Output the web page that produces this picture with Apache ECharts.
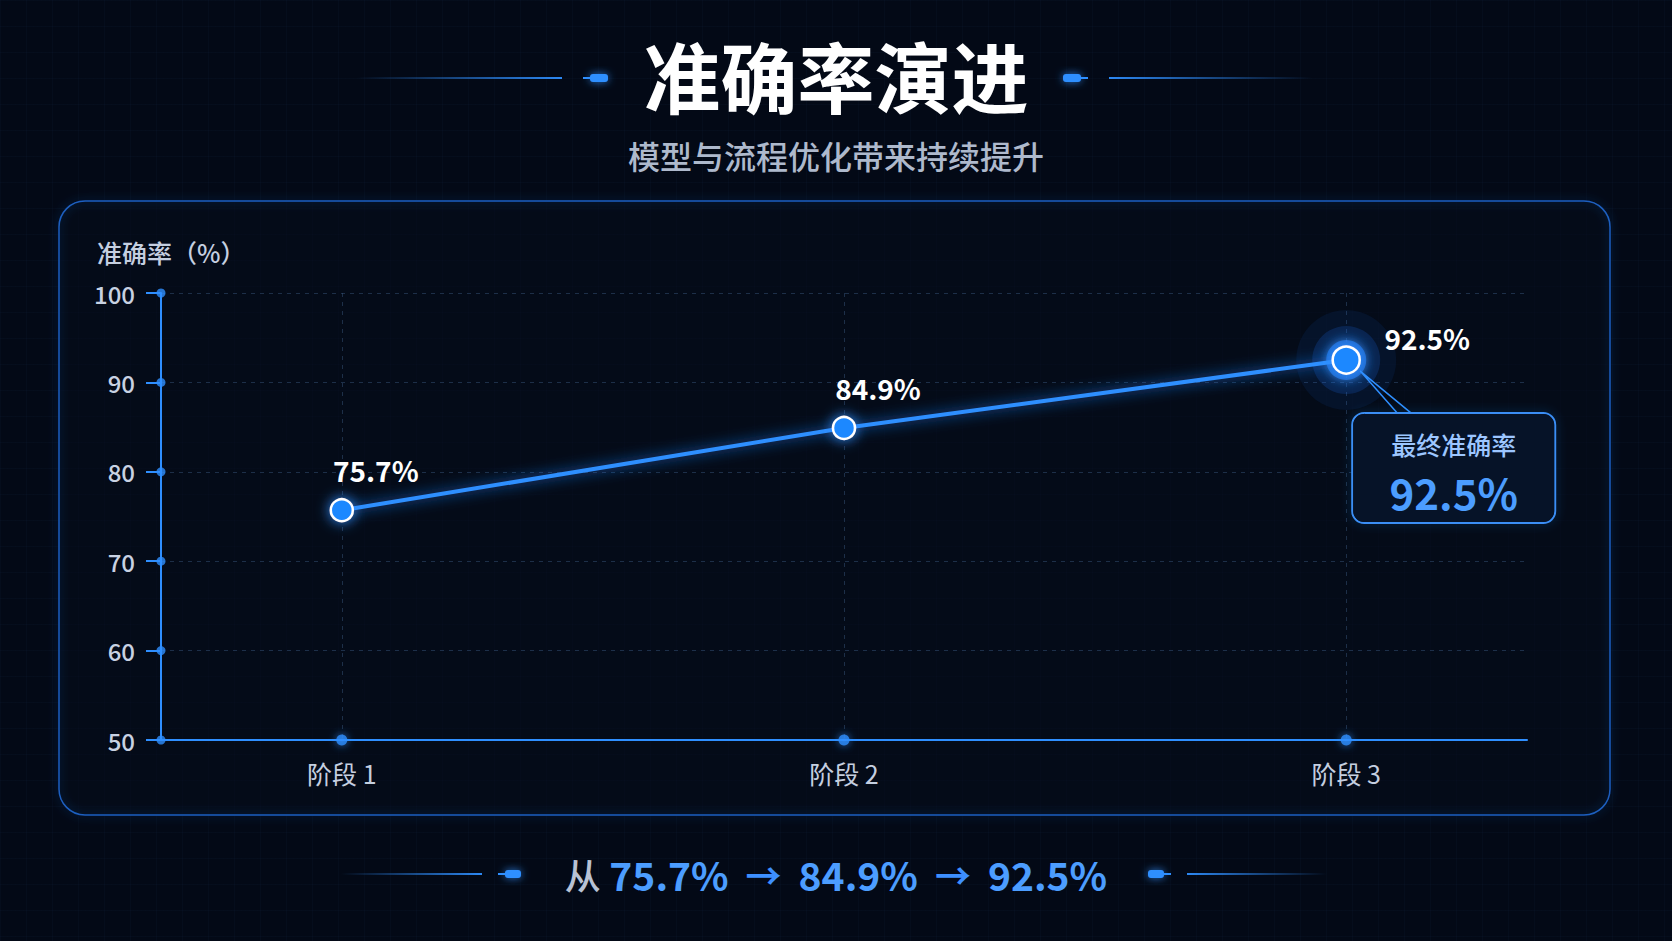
<!DOCTYPE html>
<html>
<head>
<meta charset="utf-8">
<script src="https://cdn.jsdelivr.net/npm/echarts@6/dist/echarts.min.js"></script>
<style>
  html, body { margin: 0; padding: 0; width: 1672px; height: 941px; overflow: hidden; }
  body {
    background-color: #030916;
    background-image:
      linear-gradient(rgba(40, 80, 140, 0.05) 1px, transparent 1px),
      linear-gradient(90deg, rgba(40, 80, 140, 0.05) 1px, transparent 1px);
    background-size: 26px 26px;
  }
  #chart { width: 1672px; height: 941px; }
</style>
</head>
<body>
<div id="chart"></div>
<script>
// ---------- data ----------
const categories = ['阶段 1', '阶段 2', '阶段 3'];
const accuracy = [75.7, 84.9, 92.5];
const yTicks = [50, 60, 70, 80, 90, 100];
const titleText = '准确率演进';
const subtitleText = '模型与流程优化带来持续提升';
const yAxisName = '准确率（%）';
const calloutTitle = '最终准确率';
const summaryPrefix = '从';

// ---------- helpers ----------
const FONT = '"Noto Sans CJK SC", "Noto Sans", sans-serif';
const BLUE = '#2f8fff';
const xIdx = categories.map((c, i) => i + 1);
const xMin = 0.64, xMax = 3.36;
const fmt = v => v.toFixed(1) + '%';
const lastI = accuracy.length - 1;

const chart = echarts.init(document.getElementById('chart'), null, { renderer: 'svg' });

function hLine(x1, x2, y, dir) {
  return {
    type: 'rect', silent: true,
    shape: { x: x1, y: y - 1, width: x2 - x1, height: 2 },
    style: {
      fill: new echarts.graphic.LinearGradient(0, 0, 1, 0, dir === 'in'
        ? [{ offset: 0, color: 'rgba(47,143,255,0)' }, { offset: 1, color: 'rgba(47,143,255,0.95)' }]
        : [{ offset: 0, color: 'rgba(47,143,255,0.95)' }, { offset: 1, color: 'rgba(47,143,255,0)' }])
    }
  };
}
function pill(x, y, w, tailLeft) {
  return [{
    type: 'rect', silent: true,
    shape: { x: x, y: y - 4, width: w, height: 8, r: 3 },
    style: { fill: BLUE, shadowBlur: 8, shadowColor: 'rgba(47,143,255,0.8)' }
  }, {
    type: 'rect', silent: true,
    shape: tailLeft ? { x: x - 7, y: y - 1, width: 7, height: 2 } : { x: x + w, y: y - 1, width: 7, height: 2 },
    style: { fill: BLUE }
  }];
}

const baseGraphic = [
  // panel fill (no shadow so it stays dark)
  {
    type: 'rect', silent: true, z: -10,
    shape: { x: 59, y: 201, width: 1551, height: 614, r: 26 },
    style: { fill: 'rgba(5, 12, 28, 0.55)' }
  },
  // panel border with glow
  {
    type: 'rect', silent: true, z: -9,
    shape: { x: 59, y: 201, width: 1551, height: 614, r: 26 },
    style: {
      fill: 'none', stroke: '#1e5fc0', lineWidth: 1.5,
      shadowBlur: 10, shadowColor: 'rgba(30, 110, 230, 0.5)'
    }
  },
  // title
  {
    type: 'text', silent: true,
    style: {
      text: titleText, x: 836, y: 74, align: 'center', verticalAlign: 'middle',
      font: 'bold 77px ' + FONT, fill: '#ffffff',
      shadowBlur: 10, shadowColor: 'rgba(120,170,255,0.5)'
    }
  },
  hLine(357, 562, 78, 'in'),
  ...pill(590, 78, 18, true),
  ...pill(1063, 78, 18, false),
  hLine(1109, 1312, 78, 'out'),
  // subtitle
  {
    type: 'text', silent: true,
    style: {
      text: subtitleText, x: 836, y: 155, align: 'center', verticalAlign: 'middle',
      font: '500 32px ' + FONT, fill: '#aeb9cc'
    }
  },
  // y axis name
  {
    type: 'text', silent: true,
    style: {
      text: yAxisName, x: 97, y: 252, align: 'left', verticalAlign: 'middle',
      font: '500 25px ' + FONT, fill: '#c5cfe0'
    }
  },
  // bottom summary
  hLine(341, 482, 874, 'in'),
  ...pill(505, 874, 16, true),
  ...pill(1148, 874, 16, false),
  hLine(1187, 1327, 874, 'out'),
  {
    type: 'text', silent: true,
    style: {
      text: '{g|' + summaryPrefix + '} ' + accuracy.map(v => '{v|' + fmt(v) + '}').join('{a|→}'),
      x: 836, y: 874, align: 'center', verticalAlign: 'middle',
      rich: {
        g: { font: '500 36px ' + FONT, fill: '#b8c2d4' },
        v: { font: 'bold 39px ' + FONT, fill: '#4c9dff' },
        a: { font: 'bold 36px ' + FONT, fill: '#3d8fff', padding: [0, 17, 0, 17] }
      },
      font: '38px ' + FONT
    }
  }
];

const yDots = yTicks.map(v => [xMin, v]);
const xDots = xIdx.map(x => [x, yTicks[0]]);
const labelOffsets = accuracy.map((v, i) => i === lastI ? [81, -22] : [34, -40]);

chart.setOption({
  backgroundColor: 'transparent',
  animation: false,
  grid: { left: 161, right: 145, top: 293, bottom: 201 },
  xAxis: {
    type: 'value', min: xMin, max: xMax,
    axisLine: { show: true, lineStyle: { color: BLUE, width: 2 } },
    axisTick: { show: false, customValues: xIdx },
    axisLabel: {
      customValues: xIdx,
      formatter: v => categories[Math.round(v) - 1] || '',
      color: '#c5cfe0', fontSize: 25, fontFamily: FONT, margin: 20
    },
    splitLine: { show: true, lineStyle: { color: 'rgba(60, 90, 130, 0.45)', type: [4, 5], width: 1 } }
  },
  yAxis: {
    type: 'value', min: 50, max: 100, interval: 10,
    axisLine: { show: true, lineStyle: { color: BLUE, width: 2 } },
    axisTick: { show: true, length: 15, lineStyle: { color: BLUE, width: 2 } },
    axisLabel: { color: '#c8d2e2', fontSize: 24, fontWeight: 500, fontFamily: FONT, margin: 26 },
    splitLine: { show: true, lineStyle: { color: 'rgba(60, 90, 130, 0.45)', type: [4, 5], width: 1 } }
  },
  series: [
    {
      name: 'halo', type: 'scatter', z: 1, silent: true,
      data: [[xIdx[lastI], accuracy[lastI]]],
      symbolSize: 100,
      itemStyle: { color: 'rgba(30, 120, 255, 0.10)' }
    },
    {
      name: 'halo2', type: 'scatter', z: 1, silent: true,
      data: [[xIdx[lastI], accuracy[lastI]]],
      symbolSize: 68,
      itemStyle: { color: 'rgba(30, 120, 255, 0.22)' }
    },
    {
      name: 'halo3', type: 'scatter', z: 1, silent: true,
      data: [[xIdx[lastI], accuracy[lastI]]],
      symbolSize: 40,
      itemStyle: { color: 'rgba(40, 130, 255, 0.75)', shadowBlur: 12, shadowColor: '#2f8fff' }
    },
    {
      name: 'yDots', type: 'scatter', z: 5, silent: true, clip: false,
      data: yDots, symbolSize: 9, itemStyle: { color: BLUE }
    },
    {
      name: 'xDots', type: 'scatter', z: 5, silent: true, clip: false,
      data: xDots, symbolSize: 11,
      itemStyle: { color: BLUE, shadowBlur: 8, shadowColor: 'rgba(47,143,255,0.9)' }
    },
    {
      name: '准确率', type: 'line', z: 10,
      data: xIdx.map((x, i) => ({
        value: [x, accuracy[i]],
        symbolSize: i === lastI ? 27 : 22,
        label: {
          show: true, position: 'inside',
          offset: labelOffsets[i],
          formatter: p => fmt(p.value[1]),
          color: '#ffffff', fontSize: 28, fontWeight: 600, fontFamily: FONT
        }
      })),
      symbol: 'circle',
      lineStyle: { color: BLUE, width: 4, shadowBlur: 14, shadowColor: 'rgba(30,130,255,0.9)' },
      itemStyle: {
        color: '#1e88ff', borderColor: '#ffffff', borderWidth: 2.5,
        shadowBlur: 14, shadowColor: 'rgba(47,143,255,1)'
      }
    }
  ],
  graphic: baseGraphic
});

// callout positioned from the data point
const p = chart.convertToPixel({ gridIndex: 0 }, [xIdx[lastI], accuracy[lastI]]);
const bx = p[0] + 6, by = p[1] + 53, bw = 203, bh = 110;
chart.setOption({
  graphic: baseGraphic.concat([
    {
      type: 'polyline', silent: true, z: 20,
      shape: { points: [[bx + 45, by], [p[0] + 14, p[1] + 11], [bx + 59, by]] },
      style: { stroke: BLUE, lineWidth: 1.5, fill: null }
    },
    {
      type: 'rect', silent: true, z: 20,
      shape: { x: bx, y: by, width: bw, height: bh, r: 12 },
      style: { fill: 'none', stroke: '#3a8ef5', lineWidth: 2, shadowBlur: 10, shadowColor: 'rgba(47,143,255,0.45)' }
    },
    {
      type: 'rect', silent: true, z: 20,
      shape: { x: bx + 1, y: by + 1, width: bw - 2, height: bh - 2, r: 11 },
      style: { fill: '#061328' }
    },
    {
      type: 'text', silent: true, z: 21,
      style: {
        text: calloutTitle, x: bx + bw / 2, y: by + 31, align: 'center', verticalAlign: 'middle',
        font: '500 25px ' + FONT, fill: '#9cc6ff'
      }
    },
    {
      type: 'text', silent: true, z: 21,
      style: {
        text: fmt(accuracy[lastI]), x: bx + bw / 2, y: by + 78, align: 'center', verticalAlign: 'middle',
        font: 'bold 42px ' + FONT, fill: '#4c9dff'
      }
    }
  ])
}, { replaceMerge: ['graphic'] });
</script>
</body>
</html>
